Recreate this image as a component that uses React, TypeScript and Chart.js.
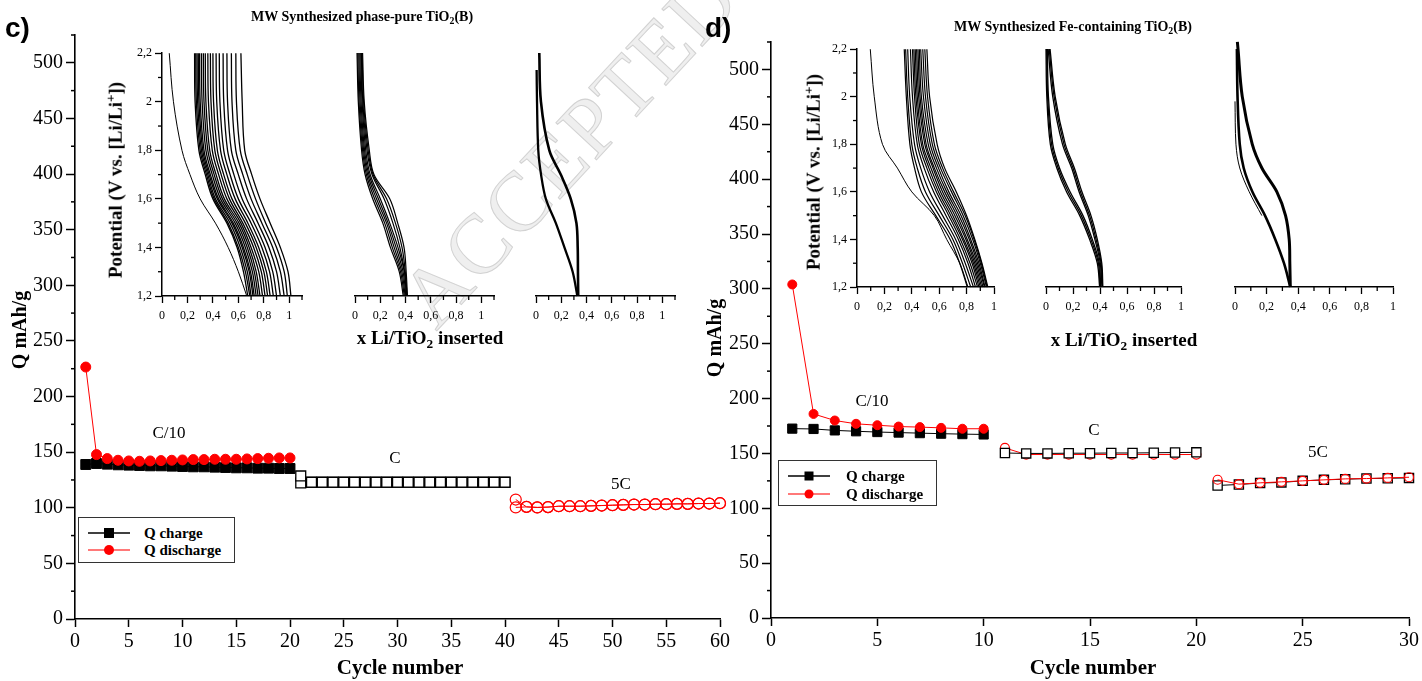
import React, { useEffect, useRef } from "react";
import { Chart, registerables } from "chart.js";
Chart.register(...registerables);

const SERIF = '"Liberation Serif", "Times New Roman", Times, serif';
const SANS = '"Liberation Sans", Arial, sans-serif';

// ---------------- Panel c : capacity vs cycle ----------------
const cCyclesC10 = [1, 2, 3, 4, 5, 6, 7, 8, 9, 10, 11, 12, 13, 14, 15, 16, 17, 18, 19, 20];
const cCyclesC = [21, 22, 23, 24, 25, 26, 27, 28, 29, 30, 31, 32, 33, 34, 35, 36, 37, 38, 39, 40];
const cCycles5C = [41, 42, 43, 44, 45, 46, 47, 48, 49, 50, 51, 52, 53, 54, 55, 56, 57, 58, 59, 60];
const cChargeC10 = [138.9, 139.8, 139.2, 138.6, 138.3, 138, 137.7, 137.7, 137.4, 137.1, 136.8, 136.8, 136.5, 136.2, 135.9, 135.9, 135.6, 135.6, 135.3, 135.3];
const cDischargeC10 = [226.5, 147.8, 144.2, 142.7, 142.1, 141.8, 142.1, 142.4, 142.7, 143, 143.3, 143.3, 143.6, 143.6, 143.6, 143.9, 144.2, 144.5, 144.8, 144.8];
const cChargeC = [128.6, 123, 123, 123, 123, 123, 123, 123, 123, 123, 123, 123, 123, 123, 123, 123, 123, 123, 123, 123];
const cDischargeC = [122.4, 122.8, 122.8, 122.8, 122.8, 122.8, 122.8, 122.8, 122.8, 122.8, 122.8, 122.8, 122.8, 122.8, 122.8, 122.8, 122.8, 122.8, 122.8, 122.8];
const cCharge5C = [107.4, 100.8, 100.3, 100.6, 101.4, 101.4, 101.4, 101.7, 102, 102.3, 102.6, 102.9, 102.9, 103.2, 103.2, 103.5, 103.5, 103.8, 103.8, 104.1];
const cDischarge5C = [100.3, 100.8, 100.3, 100.6, 101.4, 101.4, 101.4, 101.7, 102, 102.3, 102.6, 102.9, 102.9, 103.2, 103.2, 103.5, 103.5, 103.8, 103.8, 104.1];

// ---------------- Panel d : capacity vs cycle ----------------
const dCyclesC10 = [1, 2, 3, 4, 5, 6, 7, 8, 9, 10];
const dCyclesC = [11, 12, 13, 14, 15, 16, 17, 18, 19, 20];
const dCycles5C = [21, 22, 23, 24, 25, 26, 27, 28, 29, 30];
const dChargeC10 = [172.6, 172.3, 171, 170.2, 169.5, 169, 168.5, 168, 167.6, 167.3];
const dDischargeC10 = [304, 186, 180, 177, 175.7, 174.5, 174, 173.3, 172.5, 172.5];
const dChargeC = [150.4, 150, 150, 150.2, 150.2, 150.4, 150.4, 150.6, 150.8, 151];
const dDischargeC = [155, 149, 149, 149, 149, 149, 149, 149, 149, 149];
const dCharge5C = [120.8, 121.7, 123, 123.6, 125, 125.9, 126.5, 127.1, 127.4, 127.7];
const dDischarge5C = [126, 122, 123.2, 124.1, 125, 125.9, 126.8, 127.1, 127.7, 128.3];

// ---------------- tick positions ----------------
const mainYMinor = [25, 75, 125, 175, 225, 275, 325, 375, 425, 475, 525];
const insetYMinor = [1.3, 1.5, 1.7, 1.9, 2.1];
const insetXMinorC = [0.1, 0.3, 0.5, 0.7, 0.9, 1.1];
const insetXMinorD = [0.1, 0.3, 0.5, 0.7, 0.9];

// ---------------- inset potential profiles (x Li inserted at each potential) ----------------
const POT = [2.2, 2.0, 1.8, 1.7, 1.6, 1.5, 1.4, 1.3, 1.2];
const POT_C3_LEFT = [2.13, 2.0, 1.8, 1.7, 1.6, 1.5, 1.4, 1.3, 1.2];
const POT_D3_RIGHT = [2.23, 2.2, 2.0, 1.8, 1.7, 1.6, 1.5, 1.4, 1.3, 1.2];
const POT_D3_THIN = [1.98, 1.8, 1.7, 1.6, 1.5];

const c1First = [0.057, 0.09, 0.157, 0.22, 0.3, 0.42, 0.52, 0.6, 0.666];
const c1Band = [
  [0.256, 0.26, 0.29, 0.34, 0.4, 0.51, 0.59, 0.64, 0.674],
  [0.265, 0.27, 0.3, 0.35, 0.41, 0.52, 0.6, 0.655, 0.69],
  [0.275, 0.28, 0.31, 0.36, 0.42, 0.535, 0.615, 0.67, 0.7],
  [0.285, 0.29, 0.32, 0.37, 0.435, 0.55, 0.63, 0.685, 0.715],
  [0.295, 0.3, 0.33, 0.38, 0.445, 0.56, 0.64, 0.695, 0.725],
  [0.31, 0.315, 0.345, 0.395, 0.46, 0.575, 0.655, 0.71, 0.74],
  [0.325, 0.33, 0.36, 0.41, 0.475, 0.59, 0.67, 0.725, 0.755],
  [0.34, 0.345, 0.375, 0.425, 0.49, 0.605, 0.685, 0.74, 0.77],
  [0.36, 0.365, 0.395, 0.445, 0.51, 0.62, 0.7, 0.76, 0.79],
  [0.38, 0.385, 0.415, 0.465, 0.53, 0.635, 0.72, 0.78, 0.81],
  [0.4, 0.405, 0.435, 0.485, 0.55, 0.655, 0.74, 0.8, 0.83],
  [0.425, 0.43, 0.46, 0.51, 0.575, 0.675, 0.76, 0.82, 0.85],
  [0.45, 0.455, 0.485, 0.535, 0.6, 0.7, 0.785, 0.845, 0.875],
  [0.48, 0.485, 0.515, 0.565, 0.63, 0.725, 0.81, 0.87, 0.9],
  [0.51, 0.515, 0.545, 0.6, 0.665, 0.755, 0.84, 0.9, 0.93],
  [0.545, 0.55, 0.58, 0.635, 0.7, 0.785, 0.87, 0.93, 0.96],
  [0.58, 0.585, 0.615, 0.67, 0.735, 0.815, 0.9, 0.96, 0.985],
  [0.62, 0.63, 0.65, 0.705, 0.77, 0.85, 0.93, 0.99, 1.013],
];
const c2Band = [
  [0.016, 0.026, 0.052, 0.08, 0.14, 0.22, 0.28, 0.35, 0.382],
  [0.022, 0.032, 0.06, 0.09, 0.155, 0.235, 0.295, 0.36, 0.39],
  [0.03, 0.04, 0.068, 0.1, 0.17, 0.25, 0.31, 0.37, 0.397],
  [0.038, 0.048, 0.076, 0.11, 0.185, 0.262, 0.325, 0.38, 0.403],
  [0.046, 0.056, 0.085, 0.12, 0.2, 0.275, 0.34, 0.39, 0.408],
  [0.05, 0.062, 0.095, 0.135, 0.23, 0.3, 0.355, 0.392, 0.41],
  [0.056, 0.068, 0.104, 0.143, 0.25, 0.32, 0.372, 0.398, 0.412],
  [0.06, 0.073, 0.113, 0.15, 0.275, 0.338, 0.388, 0.405, 0.415],
];
const c3Charge = [0.026, 0.039, 0.105, 0.196, 0.275, 0.32, 0.33, 0.332, 0.334];
const c3Discharge = [0.005, 0.008, 0.018, 0.04, 0.078, 0.157, 0.225, 0.29, 0.327];

const d1First = [0.097, 0.126, 0.186, 0.295, 0.4, 0.565, 0.655, 0.75, 0.81];
const d1Band = [
  [0.345, 0.36, 0.386, 0.42, 0.47, 0.575, 0.68, 0.75, 0.805],
  [0.355, 0.37, 0.4, 0.44, 0.5, 0.6, 0.7, 0.77, 0.83],
  [0.37, 0.385, 0.42, 0.465, 0.53, 0.625, 0.72, 0.79, 0.85],
  [0.39, 0.405, 0.44, 0.49, 0.56, 0.65, 0.74, 0.81, 0.865],
  [0.405, 0.42, 0.455, 0.51, 0.58, 0.67, 0.755, 0.825, 0.88],
  [0.415, 0.43, 0.47, 0.525, 0.595, 0.685, 0.77, 0.84, 0.89],
  [0.425, 0.44, 0.48, 0.54, 0.61, 0.7, 0.78, 0.85, 0.9],
  [0.435, 0.45, 0.495, 0.555, 0.625, 0.715, 0.795, 0.86, 0.91],
  [0.445, 0.46, 0.505, 0.565, 0.64, 0.73, 0.805, 0.87, 0.92],
  [0.455, 0.47, 0.52, 0.58, 0.655, 0.745, 0.82, 0.88, 0.93],
  [0.465, 0.485, 0.535, 0.595, 0.67, 0.76, 0.83, 0.89, 0.935],
  [0.48, 0.5, 0.55, 0.61, 0.69, 0.775, 0.845, 0.9, 0.945],
  [0.495, 0.515, 0.565, 0.625, 0.705, 0.79, 0.855, 0.908, 0.95],
  [0.51, 0.53, 0.585, 0.64, 0.725, 0.8, 0.86, 0.912, 0.955],
];
const d2Band = [
  [0.0, 0.006, 0.032, 0.08, 0.152, 0.25, 0.323, 0.38, 0.397],
  [0.005, 0.012, 0.041, 0.09, 0.165, 0.262, 0.333, 0.388, 0.4],
  [0.01, 0.018, 0.05, 0.1, 0.178, 0.274, 0.343, 0.395, 0.404],
  [0.016, 0.05, 0.122, 0.19, 0.245, 0.313, 0.362, 0.402, 0.414],
  [0.024, 0.06, 0.133, 0.2, 0.255, 0.323, 0.371, 0.408, 0.418],
  [0.03, 0.068, 0.143, 0.21, 0.266, 0.333, 0.38, 0.413, 0.421],
];
const d3Charge = [0.015, 0.019, 0.046, 0.109, 0.17, 0.265, 0.32, 0.343, 0.347, 0.35];
const d3Discharge = [0.012, 0.016, 0.03, 0.055, 0.11, 0.19, 0.255, 0.31, 0.35];
const d3FirstThin = [0.0, 0.006, 0.03, 0.09, 0.17];

const legendLabels = ["Q charge", "Q discharge"];

// ---------------- plugin: minor ticks ----------------
const minorTicksPlugin = {
  id: "minorTicks",
  afterDraw(chart: any, _args: any, opts: any) {
    const ctx = chart.ctx;
    const area = chart.chartArea;
    (["x", "y"] as const).forEach((key) => {
      const spec = opts && opts[key];
      if (!spec) return;
      const scale = chart.scales[key];
      ctx.save();
      ctx.strokeStyle = "#000";
      ctx.lineWidth = spec.width || 1;
      spec.values.forEach((v: number) => {
        const p = scale.getPixelForValue(v);
        ctx.beginPath();
        if (key === "x") {
          ctx.moveTo(p, area.bottom);
          ctx.lineTo(p, area.bottom + spec.len);
        } else {
          ctx.moveTo(area.left, p);
          ctx.lineTo(area.left - spec.len, p);
        }
        ctx.stroke();
      });
      ctx.restore();
    });
  },
};

type Area = { l: number; r: number; t: number; b: number };
type Box = { area: Area; yW: number; xH: number; padL: number; padR: number; padT: number };

function canvasBox(b: Box) {
  return {
    left: b.area.l - b.yW - b.padL,
    top: b.area.t - b.padT,
    width: b.padL + b.yW + (b.area.r - b.area.l) + b.padR,
    height: b.padT + (b.area.b - b.area.t) + b.xH,
  };
}

function seg(xs: number[], ys: number[], o: any) {
  return {
    data: xs.map((x, i) => ({ x, y: ys[i] })),
    showLine: true,
    borderWidth: 1,
    borderColor: o.line,
    pointStyle: o.shape,
    pointRadius: o.r,
    pointHoverRadius: o.r,
    pointBackgroundColor: o.fill,
    pointBorderColor: o.stroke,
    pointBorderWidth: o.sw || 1,
    tension: 0,
    clip: false,
  };
}

const fmtComma = (v: number) => String(Math.round(v * 10) / 10).replace(".", ",");
const keepTicks = (pred: (v: number) => boolean) => (s: any) => {
  s.ticks = s.ticks.filter((t: any) => pred(t.value));
};

function mainConfig(b: Box, xMax: number, datasets: any[]) {
  return {
    type: "line",
    data: { datasets },
    options: {
      responsive: false,
      animation: false,
      devicePixelRatio: 1,
      layout: { padding: { left: b.padL, right: b.padR, top: b.padT, bottom: 0 } },
      plugins: {
        legend: { display: false },
        tooltip: { enabled: false },
        minorTicks: { y: { values: mainYMinor, len: 4, width: 1.5 } },
      },
      scales: {
        x: {
          type: "linear",
          min: 0,
          max: xMax,
          bounds: "data",
          afterFit: (s: any) => { s.height = b.xH; },
          afterBuildTicks: keepTicks((v) => Math.abs(v / 5 - Math.round(v / 5)) < 1e-6),
          border: { display: true, color: "#000", width: 1.6 },
          grid: { display: true, drawOnChartArea: false, drawTicks: true, tickLength: 8, tickWidth: 1.5, tickColor: "#000" },
          ticks: { stepSize: 5, autoSkip: false, maxRotation: 0, padding: 3, color: "#000", font: { family: SERIF, size: 20 } },
        },
        y: {
          type: "linear",
          min: 0,
          max: 525,
          bounds: "data",
          afterFit: (s: any) => { s.width = b.yW; },
          afterBuildTicks: keepTicks((v) => Math.abs(v / 50 - Math.round(v / 50)) < 1e-6),
          border: { display: true, color: "#000", width: 1.6 },
          grid: { display: true, drawOnChartArea: false, drawTicks: true, tickLength: 9, tickWidth: 1.5, tickColor: "#000" },
          ticks: { stepSize: 50, autoSkip: false, padding: 3, color: "#000", font: { family: SERIF, size: 20 } },
        },
      },
    },
    plugins: [minorTicksPlugin],
  };
}

type Curve = { levels: number[]; xs: number[]; w: number };

function insetConfig(b: Box, xMax: number, showY: boolean, curves: Curve[]) {
  const datasets = curves.map((c) => ({
    data: c.xs.map((x, i) => ({ x, y: c.levels[i] })),
    borderColor: "#000",
    borderWidth: c.w,
    pointRadius: 0,
    tension: 0.35,
    clip: false,
    fill: false,
  }));
  return {
    type: "line",
    data: { datasets },
    options: {
      responsive: false,
      animation: false,
      devicePixelRatio: 1,
      layout: { padding: { left: b.padL, right: b.padR, top: b.padT, bottom: 0 } },
      plugins: {
        legend: { display: false },
        tooltip: { enabled: false },
        minorTicks: {
          x: { values: xMax > 1.05 ? insetXMinorC : insetXMinorD, len: 4, width: 1.3 },
          y: showY ? { values: insetYMinor, len: 4, width: 1.3 } : null,
        },
      },
      scales: {
        x: {
          type: "linear",
          min: 0,
          max: xMax,
          bounds: "data",
          afterFit: (s: any) => { s.height = b.xH; },
          afterBuildTicks: keepTicks((v) => v <= 1.0001 && Math.abs(v * 5 - Math.round(v * 5)) < 1e-6),
          border: { display: true, color: "#000", width: 1.5 },
          grid: { display: true, drawOnChartArea: false, drawTicks: true, tickLength: 7, tickWidth: 1.3, tickColor: "#000" },
          ticks: { stepSize: 0.2, autoSkip: false, maxRotation: 0, padding: 6, color: "#000", font: { family: SERIF, size: 12 }, callback: (v: any) => fmtComma(Number(v)) },
        },
        y: {
          type: "linear",
          display: showY,
          min: 1.2,
          max: 2.2,
          bounds: "data",
          afterFit: (s: any) => { s.width = b.yW; },
          border: { display: true, color: "#000", width: 1.5 },
          grid: { display: true, drawOnChartArea: false, drawTicks: true, tickLength: 7, tickWidth: 1.3, tickColor: "#000" },
          ticks: { stepSize: 0.2, autoSkip: false, padding: 3, color: "#000", font: { family: SERIF, size: 12 }, callback: (v: any) => fmtComma(Number(v)) },
        },
      },
    },
    plugins: [minorTicksPlugin],
  };
}

// ---------------- layout boxes ----------------
const BOX_MAIN_C: Box = { area: { l: 75, r: 720, t: 35, b: 619 }, yW: 75, xH: 62, padL: 0, padR: 20, padT: 35 };
const BOX_MAIN_D: Box = { area: { l: 771, r: 1411, t: 42, b: 618 }, yW: 71, xH: 63, padL: 0, padR: 11, padT: 42 };
const BOX_C1: Box = { area: { l: 162, r: 302, t: 53, b: 296 }, yW: 44, xH: 32, padL: 0, padR: 8, padT: 10 };
const BOX_C2: Box = { area: { l: 354, r: 494, t: 53, b: 296 }, yW: 0, xH: 32, padL: 8, padR: 8, padT: 10 };
const BOX_C3: Box = { area: { l: 535, r: 675, t: 53, b: 296 }, yW: 0, xH: 32, padL: 8, padR: 8, padT: 10 };
const BOX_D1: Box = { area: { l: 857, r: 995, t: 49, b: 287 }, yW: 44, xH: 32, padL: 0, padR: 8, padT: 10 };
const BOX_D2: Box = { area: { l: 1045, r: 1182, t: 49, b: 287 }, yW: 0, xH: 32, padL: 8, padR: 8, padT: 10 };
const BOX_D3: Box = { area: { l: 1234, r: 1394, t: 49, b: 287 }, yW: 0, xH: 32, padL: 8, padR: 8, padT: 12 };

const RED = "#ff0000";

function Txt(p: { x: number; y: number; size: number; bold?: boolean; rot?: number; family?: string; children: any }) {
  return (
    <div
      style={{
        position: "absolute",
        left: p.x,
        top: p.y,
        transform: `translate(-50%, -50%)${p.rot ? ` rotate(${p.rot}deg)` : ""}`,
        fontFamily: p.family || SERIF,
        fontSize: p.size,
        fontWeight: p.bold ? "bold" : "normal",
        whiteSpace: "nowrap",
        lineHeight: 1,
        color: "#000",
      }}
    >
      {p.children}
    </div>
  );
}

const Sub = ({ children }: any) => <span style={{ fontSize: "0.7em", verticalAlign: "-0.25em" }}>{children}</span>;
const Sup = ({ children }: any) => <span style={{ fontSize: "0.7em", verticalAlign: "0.5em" }}>{children}</span>;

function Legend(p: { x: number; y: number; w: number; h: number; row1: number; row2: number; sq: number; cr: number; textX: number }) {
  const rows = [
    { y: p.row1, color: "#000", marker: "sq", label: legendLabels[0] },
    { y: p.row2, color: "#ff4d4d", marker: "ci", label: legendLabels[1] },
  ];
  return (
    <div style={{ position: "absolute", left: p.x, top: p.y, width: p.w, height: p.h, border: "1.5px solid #333", boxSizing: "border-box", background: "#fff" }}>
      {rows.map((r, i) => (
        <React.Fragment key={i}>
          <svg style={{ position: "absolute", left: 8, top: r.y - 8 }} width={46} height={16}>
            <line x1={1} y1={8} x2={43} y2={8} stroke={r.color} strokeWidth={1.5} />
            {r.marker === "sq" ? (
              <rect x={22 - p.sq / 2} y={8 - p.sq / 2} width={p.sq} height={p.sq} fill="#000" />
            ) : (
              <circle cx={22} cy={8} r={p.cr} fill={RED} />
            )}
          </svg>
          <div style={{ position: "absolute", left: p.textX, top: r.y, transform: "translateY(-50%)", fontFamily: SERIF, fontWeight: "bold", fontSize: 15, lineHeight: 1, whiteSpace: "nowrap" }}>
            {r.label}
          </div>
        </React.Fragment>
      ))}
    </div>
  );
}

export default function App() {
  const mainC = useRef<HTMLCanvasElement>(null);
  const mainD = useRef<HTMLCanvasElement>(null);
  const c1 = useRef<HTMLCanvasElement>(null);
  const c2 = useRef<HTMLCanvasElement>(null);
  const c3 = useRef<HTMLCanvasElement>(null);
  const d1 = useRef<HTMLCanvasElement>(null);
  const d2 = useRef<HTMLCanvasElement>(null);
  const d3 = useRef<HTMLCanvasElement>(null);

  useEffect(() => {
    const charts: Chart[] = [];
    const mk = (ref: any, cfg: any) => {
      if (ref.current) charts.push(new Chart(ref.current, cfg));
    };

    const cDatasets = [
      seg(cCyclesC10, cDischargeC10, { line: RED, shape: "circle", r: 5, fill: RED, stroke: RED }),
      seg(cCyclesC10, cChargeC10, { line: "#000", shape: "rect", r: 7, fill: "#000", stroke: "#000" }),
      seg(cCyclesC, cChargeC, { line: "#000", shape: "rect", r: 7, fill: "#fff", stroke: "#000", sw: 1.3 }),
      seg(cCyclesC, cDischargeC, { line: "#000", shape: "rect", r: 7, fill: "#fff", stroke: "#000", sw: 1.3 }),
      seg(cCycles5C, cCharge5C, { line: RED, shape: "circle", r: 5.5, fill: "rgba(0,0,0,0)", stroke: RED, sw: 1.2 }),
      seg(cCycles5C, cDischarge5C, { line: RED, shape: "circle", r: 5.5, fill: "rgba(0,0,0,0)", stroke: RED, sw: 1.2 }),
    ];
    const dDatasets = [
      seg(dCyclesC10, dDischargeC10, { line: RED, shape: "circle", r: 4.5, fill: RED, stroke: RED }),
      seg(dCyclesC10, dChargeC10, { line: "#000", shape: "rect", r: 6.5, fill: "#000", stroke: "#000" }),
      seg(dCyclesC, dChargeC, { line: "#000", shape: "rect", r: 6.5, fill: "#fff", stroke: "#000", sw: 1.3 }),
      seg(dCyclesC, dDischargeC, { line: RED, shape: "circle", r: 4.5, fill: "#fff", stroke: RED, sw: 1.2 }),
      seg(dCycles5C, dDischarge5C, { line: RED, shape: "circle", r: 4.5, fill: "rgba(0,0,0,0)", stroke: RED, sw: 1.2 }),
      seg(dCycles5C, dCharge5C, { line: "#000", shape: "rect", r: 6.5, fill: "#fff", stroke: "#000", sw: 1.3 }),
    ];
    mk(mainC, mainConfig(BOX_MAIN_C, 60, cDatasets));
    mk(mainD, mainConfig(BOX_MAIN_D, 30, dDatasets));

    mk(c1, insetConfig(BOX_C1, 1.1, true, [
      { levels: POT, xs: c1First, w: 1 },
      ...c1Band.map((xs) => ({ levels: POT, xs, w: 1.3 })),
    ]));
    mk(c2, insetConfig(BOX_C2, 1.1, false, c2Band.map((xs) => ({ levels: POT, xs, w: 1.2 }))));
    mk(c3, insetConfig(BOX_C3, 1.1, false, [
      { levels: POT, xs: c3Charge, w: 2.6 },
      { levels: POT_C3_LEFT, xs: c3Discharge, w: 2.3 },
    ]));
    mk(d1, insetConfig(BOX_D1, 1.0, true, [
      { levels: POT, xs: d1First, w: 1 },
      ...d1Band.map((xs) => ({ levels: POT, xs, w: 1.2 })),
    ]));
    mk(d2, insetConfig(BOX_D2, 1.0, false, d2Band.map((xs) => ({ levels: POT, xs, w: 1.3 }))));
    mk(d3, insetConfig(BOX_D3, 1.0, false, [
      { levels: POT_D3_RIGHT, xs: d3Charge, w: 3 },
      { levels: POT, xs: d3Discharge, w: 2.6 },
      { levels: POT_D3_THIN, xs: d3FirstThin, w: 1 },
    ]));
    return () => charts.forEach((ch) => ch.destroy());
  }, []);

  const canv = (ref: any, b: Box) => {
    const cb = canvasBox(b);
    return <canvas ref={ref} width={cb.width} height={cb.height} style={{ position: "absolute", left: cb.left, top: cb.top, width: cb.width, height: cb.height }} />;
  };

  return (
    <div style={{ position: "absolute", left: 0, top: 0, width: 1422, height: 681, overflow: "hidden", background: "#fff" }}>
      {/* watermark */}
      <div
        style={{
          position: "absolute",
          left: 440,
          top: 335 - 75,
          transformOrigin: "0 75px",
          transform: "rotate(-47deg)",
          fontFamily: SERIF,
          fontSize: 84,
          lineHeight: "84px",
          color: "#efefef",
          WebkitTextStroke: "1px #d2d2d2",
          whiteSpace: "nowrap",
          letterSpacing: 2,
        }}
      >
        ACCEPTED MANUSCRIPT
      </div>

      {canv(mainC, BOX_MAIN_C)}
      {canv(mainD, BOX_MAIN_D)}
      {canv(c1, BOX_C1)}
      {canv(c2, BOX_C2)}
      {canv(c3, BOX_C3)}
      {canv(d1, BOX_D1)}
      {canv(d2, BOX_D2)}
      {canv(d3, BOX_D3)}

      <div style={{ position: "absolute", left: 5, top: 14, fontFamily: SANS, fontWeight: "bold", fontSize: 28, lineHeight: 1 }}>c)</div>
      <div style={{ position: "absolute", left: 705, top: 14, fontFamily: SANS, fontWeight: "bold", fontSize: 28, lineHeight: 1 }}>d)</div>

      <Txt x={362} y={18} size={14} bold>MW Synthesized phase-pure TiO<Sub>2</Sub>(B)</Txt>
      <Txt x={1073} y={28} size={14} bold>MW Synthesized Fe-containing TiO<Sub>2</Sub>(B)</Txt>

      <Txt x={114} y={180} size={19} bold rot={-90}>Potential (V vs. [Li/Li<Sup>+</Sup>])</Txt>
      <Txt x={812} y={172} size={19} bold rot={-90}>Potential (V vs. [Li/Li<Sup>+</Sup>])</Txt>

      <Txt x={430} y={339} size={19} bold>x Li/TiO<Sub>2</Sub> inserted</Txt>
      <Txt x={1124} y={341} size={19} bold>x Li/TiO<Sub>2</Sub> inserted</Txt>

      <Txt x={19} y={330} size={20} bold rot={-90}>Q mAh/g</Txt>
      <Txt x={714} y={338} size={20} bold rot={-90}>Q mAh/g</Txt>

      <Txt x={400} y={667} size={21} bold>Cycle number</Txt>
      <Txt x={1093} y={667} size={21} bold>Cycle number</Txt>

      <Txt x={169} y={432} size={17}>C/10</Txt>
      <Txt x={395} y={457} size={17}>C</Txt>
      <Txt x={621} y={483} size={17}>5C</Txt>
      <Txt x={872} y={400} size={17}>C/10</Txt>
      <Txt x={1094} y={429} size={17}>C</Txt>
      <Txt x={1318} y={451} size={17}>5C</Txt>

      <Legend x={78} y={517} w={157} h={46} row1={15} row2={32} sq={10} cr={5} textX={65} />
      <Legend x={778} y={460} w={159} h={46} row1={15} row2={33} sq={9} cr={4.5} textX={67} />
    </div>
  );
}
